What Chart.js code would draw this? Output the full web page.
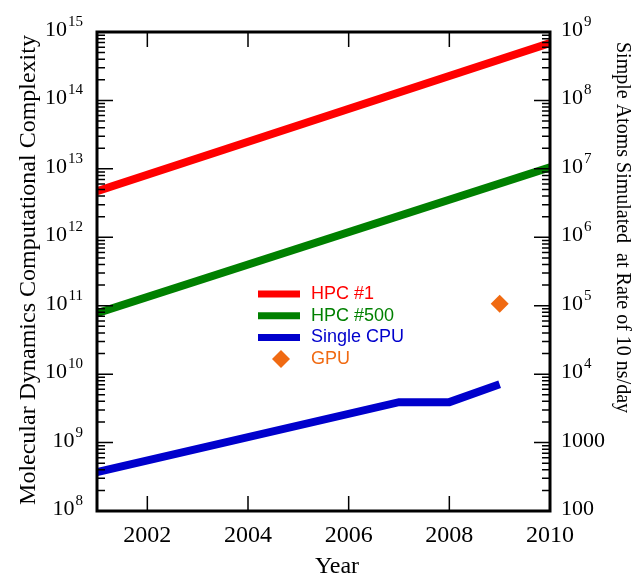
<!DOCTYPE html>
<html>
<head>
<meta charset="utf-8">
<script src="https://cdn.jsdelivr.net/npm/chart.js@4.4.0/dist/chart.umd.min.js"></script>
<style>
  html, body { margin: 0; padding: 0; background: #fff; }
</style>
</head>
<body>
<canvas id="grafico" width="633" height="575"></canvas>
<script>
// Datos (escala log)
const anosHPC1 = [2001, 2010];
const valoresHPC1 = [4.7e12, 6.9e14];

const anosHPC500 = [2001, 2010];
const valoresHPC500 = [7.8e10, 1.05e13];

const anosCPU = [2001, 2007, 2008, 2009];
const valoresCPU = [3.7e8, 3.9e9, 3.9e9, 7.1e9];

const anosGPU = [2009];
const valoresGPU = [1.07e11];

// Etiquetas de los ejes
const ticksX = [2002, 2004, 2006, 2008, 2010];
const valoresIzq = [1e8, 1e9, 1e10, 1e11, 1e12, 1e13, 1e14, 1e15];
const etiquetasIzq = ['10^8', '10^9', '10^10', '10^11', '10^12', '10^13', '10^14', '10^15'];
const valoresDer = [1e2, 1e3, 1e4, 1e5, 1e6, 1e7, 1e8, 1e9];
const etiquetasDer = ['100', '1000', '10^4', '10^5', '10^6', '10^7', '10^8', '10^9'];

const SERIF = '"Liberation Serif", "Times New Roman", serif';
const SANS = '"Liberation Sans", Arial, sans-serif';

function puntos(xs, ys) {
    return xs.map((x, i) => ({ x: x, y: ys[i] }));
}

// Dibuja "10" con exponente arriba
function dibujarPotencia(ctx, texto, x, y, alinear) {
    const partes = texto.split('^');
    const base = partes[0];
    const exp = partes[1];
    ctx.font = '22px ' + SERIF;
    const wBase = ctx.measureText(base).width;
    let wExp = 0;
    if (exp) {
        ctx.font = '15px ' + SERIF;
        wExp = ctx.measureText(exp).width + 1;
    }
    const x0 = alinear === 'right' ? x - wBase - wExp : x;
    ctx.textAlign = 'left';
    ctx.textBaseline = 'alphabetic';
    ctx.fillStyle = '#000';
    ctx.font = '22px ' + SERIF;
    ctx.fillText(base, x0, y + 4);
    if (exp) {
        ctx.font = '15px ' + SERIF;
        ctx.fillText(exp, x0 + wBase + 1, y - 6);
    }
}

const pluginEjes = {
    id: 'ejes',
    afterDatasetsDraw(chart) {
        const ctx = chart.ctx;
        const area = chart.chartArea;
        const sx = chart.scales.x;
        const sy = chart.scales.y;
        const sy2 = chart.scales.y2;
        ctx.save();
        ctx.strokeStyle = '#000';

        // marcas menores y mayores en la escala log (hacia dentro)
        ctx.lineWidth = 1.5;
        ctx.beginPath();
        for (let e = 8; e < 15; e++) {
            for (let m = 2; m <= 9; m++) {
                const py = sy.getPixelForValue(m * Math.pow(10, e));
                ctx.moveTo(area.left, py); ctx.lineTo(area.left + 8, py);
                ctx.moveTo(area.right, py); ctx.lineTo(area.right - 8, py);
            }
        }
        valoresIzq.forEach(v => {
            const py = sy.getPixelForValue(v);
            ctx.moveTo(area.left, py); ctx.lineTo(area.left + 16, py);
        });
        valoresDer.forEach(v => {
            const py = sy2.getPixelForValue(v);
            ctx.moveTo(area.right, py); ctx.lineTo(area.right - 16, py);
        });
        ticksX.forEach(v => {
            const px = sx.getPixelForValue(v);
            ctx.moveTo(px, area.bottom); ctx.lineTo(px, area.bottom - 15);
            ctx.moveTo(px, area.top); ctx.lineTo(px, area.top + 15);
        });
        ctx.stroke();

        // marco
        ctx.lineWidth = 3;
        ctx.strokeRect(area.left, area.top, area.right - area.left, area.bottom - area.top);

        // etiquetas de los ejes y
        valoresIzq.forEach((v, i) => {
            dibujarPotencia(ctx, etiquetasIzq[i], 83, sy.getPixelForValue(v), 'right');
        });
        valoresDer.forEach((v, i) => {
            dibujarPotencia(ctx, etiquetasDer[i], 561, sy2.getPixelForValue(v), 'left');
        });

        // títulos
        ctx.fillStyle = '#000';
        ctx.textBaseline = 'alphabetic';
        ctx.font = '24px ' + SERIF;
        ctx.save();
        ctx.translate(35, 270);
        ctx.rotate(-Math.PI / 2);
        ctx.textAlign = 'center';
        ctx.fillText('Molecular Dynamics Computational Complexity', 0, 0);
        ctx.restore();

        ctx.save();
        ctx.font = '20px ' + SERIF;
        ctx.translate(616.5, 42);
        ctx.rotate(Math.PI / 2);
        ctx.textAlign = 'left';
        ctx.fillText('Simple Atoms Simulated  at Rate of 10 ns/day', 0, 0);
        ctx.restore();

        ctx.textAlign = 'center';
        ctx.font = '24px ' + SERIF;
        ctx.fillText('Year', 337, 573);

        // leyenda en el centro
        ctx.font = '18px ' + SANS;
        ctx.textAlign = 'left';
        ctx.textBaseline = 'middle';
        chart.data.datasets.forEach((ds, i) => {
            const y = 294 + i * 21.7;
            if (ds.showLine === false) {
                ctx.fillStyle = ds.backgroundColor;
                ctx.beginPath();
                ctx.moveTo(281, y - 9); ctx.lineTo(290, y); ctx.lineTo(281, y + 9); ctx.lineTo(272, y);
                ctx.closePath();
                ctx.fill();
            } else {
                ctx.strokeStyle = ds.borderColor;
                ctx.lineWidth = 7;
                ctx.beginPath();
                ctx.moveTo(258, y); ctx.lineTo(300, y);
                ctx.stroke();
            }
            ctx.fillStyle = ds.borderColor;
            ctx.fillText(ds.label, 311, y);
        });
        ctx.restore();
    }
};

const ctx = document.getElementById('grafico').getContext('2d');
new Chart(ctx, {
    type: 'line',
    data: {
        datasets: [{
            label: 'HPC #1',
            data: puntos(anosHPC1, valoresHPC1),
            borderColor: '#ff0000',
            borderWidth: 8,
            pointRadius: 0,
            yAxisID: 'y'
        }, {
            label: 'HPC #500',
            data: puntos(anosHPC500, valoresHPC500),
            borderColor: '#008000',
            borderWidth: 8,
            pointRadius: 0,
            yAxisID: 'y'
        }, {
            label: 'Single CPU',
            data: puntos(anosCPU, valoresCPU),
            borderColor: '#0000cc',
            borderWidth: 8,
            pointRadius: 0,
            yAxisID: 'y'
        }, {
            label: 'GPU',
            data: puntos(anosGPU, valoresGPU),
            borderColor: '#f06a12',
            backgroundColor: '#f06a12',
            showLine: false,
            pointStyle: 'rectRot',
            pointRadius: 9,
            borderWidth: 0,
            yAxisID: 'y'
        }]
    },
    options: {
        responsive: false,
        animation: false,
        layout: { padding: { top: 32 } },
        plugins: {
            legend: { display: false },
            tooltip: { enabled: false }
        },
        scales: {
            x: {
                type: 'linear',
                min: 2001,
                max: 2010,
                grid: { display: false },
                border: { display: false },
                afterBuildTicks: s => { s.ticks = ticksX.map(v => ({ value: v })); },
                afterFit: s => { s.height = 64; },
                ticks: {
                    font: { family: SERIF, size: 24 },
                    color: '#000',
                    padding: 2,
                    maxRotation: 0,
                    autoSkip: false,
                    callback: v => String(v)
                }
            },
            y: {
                type: 'logarithmic',
                position: 'left',
                min: 1e8,
                max: 1e15,
                grid: { display: false },
                border: { display: false },
                ticks: { display: false },
                afterFit: s => { s.width = 97; }
            },
            y2: {
                type: 'logarithmic',
                position: 'right',
                min: 100,
                max: 1e9,
                grid: { display: false },
                border: { display: false },
                ticks: { display: false },
                afterFit: s => { s.width = 83; }
            }
        }
    },
    plugins: [pluginEjes]
});
</script>
</body>
</html>
